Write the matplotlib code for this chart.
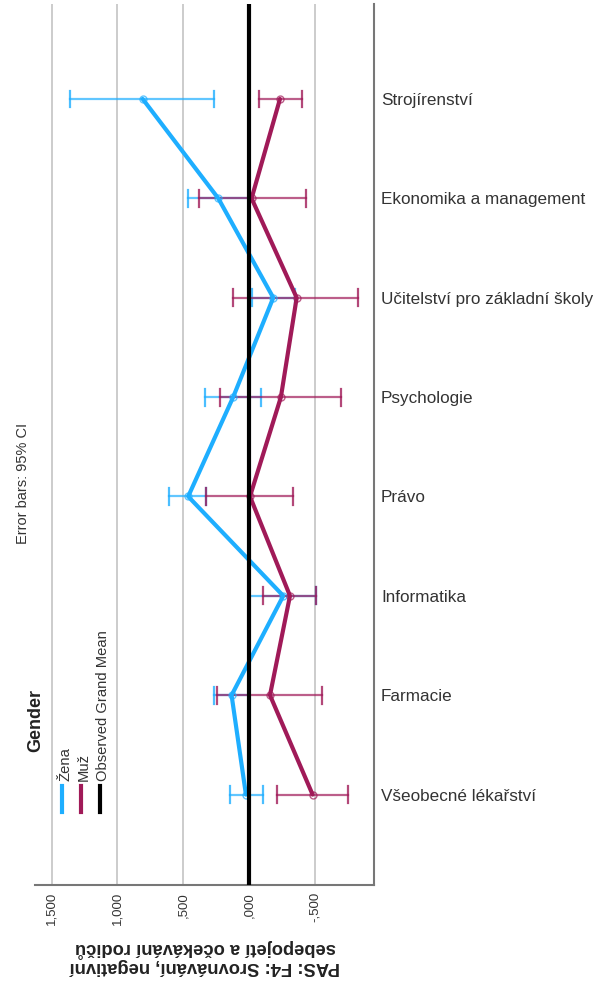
import matplotlib
matplotlib.use("Agg")
import matplotlib.pyplot as plt
import numpy as np

plt.rcParams['font.family'] = ['Liberation Sans', 'DejaVu Sans']

categories = ["Strojírenství", "Ekonomika a management", "Učitelství pro základní školy",
              "Psychologie", "Právo", "Informatika", "Farmacie", "Všeobecné lékařství"]

zena_mean = [0.808, 0.233, -0.185, 0.120, 0.462, -0.261, 0.132, 0.023]
zena_lo   = [1.361, 0.466, -0.020, 0.335, 0.606, 0.000, 0.264, 0.144]
zena_hi   = [0.266, 0.000, -0.350, -0.089, 0.327, -0.510, 0.000, -0.109]

muz_mean = [-0.236, -0.020, -0.363, -0.243, -0.008, -0.312, -0.160, -0.484]
muz_lo   = [-0.074, 0.378, 0.120, 0.220, 0.327, -0.109, 0.246, -0.215]
muz_hi   = [-0.400, -0.433, -0.827, -0.697, -0.332, -0.510, -0.553, -0.755]

grand_mean = 0.0

xticks = [1.5, 1.0, 0.5, 0.0, -0.5]
xtick_labels = ["1,500", "1,000", ",500", ",000", "-,500"]

col_zena = "#1EAEFF"
col_muz = "#A01A58"

fig = plt.figure(figsize=(6.08, 9.86), dpi=100)
ax = fig.add_axes([35 / 608, 101 / 986, 339 / 608, 881 / 986])

y = np.arange(len(categories))

for xv in xticks:
    ax.axvline(xv, color="#c8c8c8", lw=1.3, zorder=0)

def draw_series(mean, lo, hi, col):
    ax.plot(mean, y, color=col, lw=3, zorder=3, solid_capstyle='round')
    for yi, a, b in zip(y, lo, hi):
        ax.plot([a, b], [yi, yi], color=col, lw=1.6, alpha=0.7, zorder=2)
        ax.plot([a, a], [yi - 0.085, yi + 0.085], color=col, lw=1.6, alpha=0.8, zorder=2)
        ax.plot([b, b], [yi - 0.085, yi + 0.085], color=col, lw=1.6, alpha=0.8, zorder=2)
    ax.plot(mean, y, 'o', ms=5, mfc='none', mec=col, mew=1.0, alpha=0.7, zorder=4)

draw_series(zena_mean, zena_lo, zena_hi, col_zena)
draw_series(muz_mean, muz_lo, muz_hi, col_muz)

ax.axvline(grand_mean, color="black", lw=3, zorder=5)

ax.set_xlim(1.627, -0.951)
ax.set_ylim(7.91, -0.956)

ax.set_xticks(xticks)
ax.set_xticklabels(xtick_labels, rotation=90, fontsize=9.5, color="#333333")
ax.tick_params(axis='x', length=0, pad=5)

ax.yaxis.tick_right()
ax.set_yticks(y)
ax.set_yticklabels(categories, fontsize=12.3, color="#333333")
ax.tick_params(axis='y', length=0, pad=5)

for s in ["left", "top"]:
    ax.spines[s].set_visible(False)
for s in ["right", "bottom"]:
    ax.spines[s].set_color("#777777")
    ax.spines[s].set_linewidth(1.5)

# axis title, printed upside down
fig.text(205 / 608, 1 - 957 / 986,
         "PAS: F4: Srovnávání, negativní\nsebepojetí a očekávání rodičů",
         rotation=180, ha="center", va="center", fontsize=13.2, fontweight="bold",
         color="#222222", linespacing=1.0)

# note about error bars
fig.text(23 / 608, 1 - 483 / 986, "Error bars: 95% CI", rotation=90,
         ha="center", va="center", fontsize=10.5, color="#333333")

# legend drawn by hand with vertical entries
fig.text(36 / 608, 1 - 721 / 986, "Gender", rotation=90, ha="center", va="center",
         fontsize=13, fontweight="bold", color="#222222")
leg_items = [("Žena", col_zena, 62), ("Muž", col_muz, 81), ("Observed Grand Mean", "black", 100)]
for label, col, xp in leg_items:
    fig.add_artist(plt.Line2D([xp / 608, xp / 608], [1 - 812 / 986, 1 - 786 / 986],
                              color=col, lw=3, transform=fig.transFigure))
    fig.text((xp + 3) / 608, 1 - 781 / 986, label, rotation=90, ha="center", va="bottom",
             fontsize=10.6, color="#333333")

fig.savefig("out.png", dpi=100, facecolor="white")
